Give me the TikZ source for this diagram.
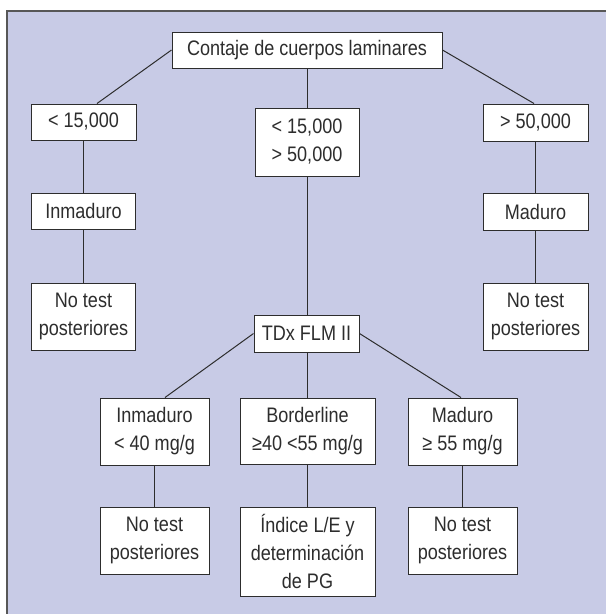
\documentclass[tikz,border=0pt]{standalone}
\usepackage{fontspec}
\setmainfont[FakeStretch=0.86]{Liberation Sans}
\definecolor{bgl}{RGB}{200,203,230}
\definecolor{ink}{RGB}{45,45,45}
\begin{document}
\begin{tikzpicture}[x=1pt,y=-1pt,
  box/.style={draw=ink,line width=1pt,fill=white,inner sep=0pt,align=center,
    text=ink,font=\fontsize{21}{28}\selectfont},
  conn/.style={draw=ink,line width=1pt}]
\useasboundingbox (0,0) rectangle (606,614);
\fill[bgl] (7,11) rectangle (606,614);
\draw[ink!80,line width=1.4pt] (7,614) -- (7,11) -- (606,11);

\node[box,minimum width=270pt,minimum height=36pt] (top) at (307,50) {Contaje de cuerpos laminares};
\node[box,minimum width=105pt,minimum height=36pt] (L1) at (83.5,122) {< 15,000};
\node[box,minimum width=104pt,minimum height=68pt] (M1) at (307,142) {< 15,000\\> 50,000};
\node[box,minimum width=105pt,minimum height=37pt] (R1) at (535.5,122.5) {> 50,000};
\node[box,minimum width=104pt,minimum height=36pt] (L2) at (83.5,211) {Inmaduro};
\node[box,minimum width=105pt,minimum height=37pt] (R2) at (535.5,211.5) {Maduro};
\node[box,minimum width=104pt,minimum height=67pt] (L3) at (83.5,316.5) {No test\\posteriores};
\node[box,minimum width=105pt,minimum height=67pt] (R3) at (535.5,316.5) {No test\\posteriores};
\node[box,minimum width=105pt,minimum height=37pt] (T) at (306.5,333.5) {TDx FLM II};
\node[box,minimum width=109pt,minimum height=67pt] (B1) at (154.5,431.5) {Inmaduro\\< 40 mg/g};
\node[box,minimum width=135pt,minimum height=66pt] (B2) at (307.5,431) {Borderline\\≥40 <55 mg/g};
\node[box,minimum width=109pt,minimum height=67pt] (B3) at (462.5,431.5) {Maduro\\≥ 55 mg/g};
\node[box,minimum width=109pt,minimum height=67pt] (C1) at (154.5,540.5) {No test\\posteriores};
\node[box,minimum width=135pt,minimum height=89pt] (C2) at (307.5,551.5) {Índice L/E y\\determinación\\de PG};
\node[box,minimum width=109pt,minimum height=67pt] (C3) at (462.5,540.5) {No test\\posteriores};

\draw[conn] (top.west) -- ([xshift=13.5pt]L1.north);
\draw[conn] (top.east) -- ([xshift=-1.5pt]R1.north);
\draw[conn] (top.south) -- (M1.north);
\draw[conn] (L1) -- (L2);
\draw[conn] (L2) -- (L3);
\draw[conn] (R1) -- (R2);
\draw[conn] (R2) -- (R3);
\draw[conn] (M1.south) -- (T.north -| M1.south);
\draw[conn] (T.west) -- ([xshift=10.5pt]B1.north);
\draw[conn] (T.east) -- ([xshift=-1.5pt]B3.north);
\draw[conn] (T.south -| B2.north) -- (B2.north);
\draw[conn] (B1) -- (C1);
\draw[conn] (B2) -- (C2);
\draw[conn] (B3) -- (C3);
\end{tikzpicture}
\end{document}
